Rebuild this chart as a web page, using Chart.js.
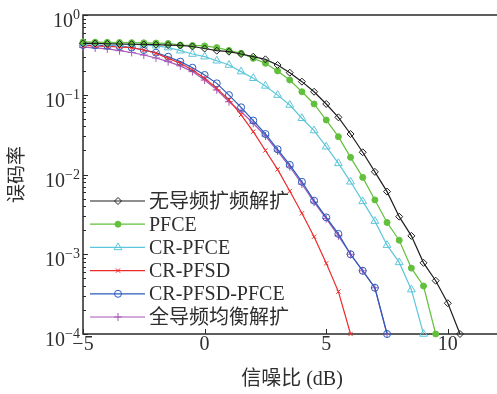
<!DOCTYPE html>
<html>
<head>
<meta charset="utf-8">
<title>误码率曲线</title>
<style>
    html, body {
        margin: 0;
        padding: 0;
        background-color: #fff;
        overflow: hidden;
    }
    #wrap {
        width: 502px;
        height: 394px;
    }
</style>
</head>
<body>
<div id="wrap"><canvas id="berChart" width="502" height="394"></canvas></div>

<script src="https://cdn.jsdelivr.net/npm/chart.js"></script>
<script>
// SNR points (dB)
const snr = [-5, -4.5, -4, -3.5, -3, -2.5, -2, -1.5, -1, -0.5, 0, 0.5, 1, 1.5, 2, 2.5,
             3, 3.5, 4, 4.5, 5, 5.5, 6, 6.5, 7, 7.5, 8, 8.5, 9, 9.5, 10, 10.5];

const seriesNames = ['无导频扩频解扩', 'PFCE', 'CR-PFCE', 'CR-PFSD', 'CR-PFSD-PFCE', '全导频均衡解扩'];

const berNoPilot = [0.442, 0.44, 0.436, 0.433, 0.43, 0.427, 0.424, 0.42, 0.415, 0.403, 0.38, 0.357,
                    0.347, 0.324, 0.300, 0.278, 0.236, 0.189, 0.146, 0.109, 0.0766, 0.0521, 0.0322,
                    0.019, 0.0108, 0.0061, 0.00296, 0.0017, 0.00078, 0.000466, 0.000243, 0.0001];
const berPFCE = [0.459, 0.456, 0.454, 0.452, 0.45, 0.448, 0.445, 0.44, 0.42, 0.415, 0.41, 0.39,
                 0.36, 0.331, 0.286, 0.248, 0.199, 0.153, 0.109, 0.0766, 0.0482, 0.0298, 0.0164,
                 0.0092, 0.0048, 0.0025, 0.0015, 0.00067, 0.0004, 0.0001];
const berCRPFCE = [0.442, 0.44, 0.437, 0.433, 0.43, 0.422, 0.412, 0.39, 0.357, 0.324, 0.30, 0.267,
                   0.236, 0.195, 0.161, 0.129, 0.099, 0.0744, 0.0507, 0.0356, 0.0223, 0.0138, 0.0081,
                   0.0046, 0.0026, 0.0013, 0.00079, 0.00036, 0.0001];
const berCRPFSD = [0.412, 0.41, 0.405, 0.398, 0.389, 0.364, 0.331, 0.286, 0.248, 0.204, 0.161, 0.12,
                   0.086, 0.056, 0.0344, 0.02, 0.0116, 0.0062, 0.00326, 0.00166, 0.00077, 0.00034, 0.0001];
const berCRPFSDPFCE = [0.42, 0.417, 0.412, 0.405, 0.391, 0.364, 0.337, 0.30, 0.26, 0.218, 0.177, 0.139,
                       0.099, 0.0696, 0.0475, 0.0322, 0.0207, 0.0132, 0.0081, 0.0047, 0.0029, 0.0018,
                       0.001, 0.00062, 0.00038, 0.0001];
const berFullPilot = [0.394, 0.386, 0.375, 0.357, 0.339, 0.315, 0.289, 0.26, 0.23, 0.195, 0.153, 0.115,
                      0.0818, 0.0613, 0.0439, 0.0304, 0.0197, 0.0125, 0.0076, 0.0045, 0.0028, 0.0017,
                      0.001, 0.00062, 0.00038, 0.0001];

const xTicks = [-5, 0, 5, 10];
const yDecades = [0, -1, -2, -3, -4];

const serif = '"Liberation Serif", "Noto Sans CJK SC", serif';
const textColor = '#2e2e2e';

function pts(values) {
    return values.map((v, i) => ({ x: snr[i], y: v }));
}

function makeSet(i, values, color, style, radius, filled) {
    return {
        label: seriesNames[i],
        data: pts(values),
        borderColor: color,
        borderWidth: 1.2,
        pointStyle: style,
        pointRadius: radius,
        pointBorderColor: color,
        pointBorderWidth: 1,
        pointBackgroundColor: filled ? color : 'rgba(255,255,255,0)',
        tension: 0,
        fill: false,
        clip: false
    };
}

const datasets = [
    makeSet(0, berNoPilot, '#1e1e1e', 'rectRot', 3.5, false),
    makeSet(1, berPFCE, '#62c03c', 'circle', 3, true),
    makeSet(2, berCRPFCE, '#5ec6da', 'triangle', 4.5, false),
    makeSet(3, berCRPFSD, '#ec2a2a', 'crossRot', 3, false),
    makeSet(4, berCRPFSDPFCE, '#2a5cbc', 'circle', 3.5, false),
    makeSet(5, berFullPilot, '#a659b8', 'cross', 4, false)
];

function drawMarker(ctx, ds, x, y) {
    if (Chart.helpers && Chart.helpers.drawPoint) {
        ctx.save();
        ctx.strokeStyle = ds.pointBorderColor;
        ctx.fillStyle = ds.pointBackgroundColor;
        ctx.lineWidth = ds.pointBorderWidth;
        Chart.helpers.drawPoint(ctx, {
            pointStyle: ds.pointStyle,
            radius: ds.pointRadius,
            rotation: 0,
            borderWidth: ds.pointBorderWidth
        }, x, y);
        ctx.restore();
    }
}

const framePlugin = {
    id: 'frame',
    beforeDatasetsDraw(chart) {
        const ctx = chart.ctx;
        const a = chart.chartArea;
        const xs = chart.scales.x;
        const ys = chart.scales.y;
        ctx.save();
        ctx.strokeStyle = '#2a2a2a';
        ctx.lineWidth = 1.5;
        ctx.beginPath();
        ctx.moveTo(a.right + 2, a.top);
        ctx.lineTo(a.left, a.top);
        ctx.lineTo(a.left, a.bottom);
        ctx.lineTo(a.right + 2, a.bottom);
        ctx.stroke();

        ctx.lineWidth = 1;
        ctx.beginPath();
        // x major ticks (inside)
        xTicks.forEach(t => {
            const px = Math.round(xs.getPixelForValue(t)) + 0.5;
            ctx.moveTo(px, a.bottom);
            ctx.lineTo(px, a.bottom - 5);
        });
        // y major and minor ticks (inside)
        yDecades.forEach(d => {
            const py = Math.round(ys.getPixelForValue(Math.pow(10, d))) + 0.5;
            ctx.moveTo(a.left, py);
            ctx.lineTo(a.left + 5, py);
            if (d < 0) {
                for (let k = 2; k <= 9; k++) {
                    const my = Math.round(ys.getPixelForValue(k * Math.pow(10, d))) + 0.5;
                    ctx.moveTo(a.left, my);
                    ctx.lineTo(a.left + 3, my);
                }
            }
        });
        ctx.stroke();

        // tick labels
        ctx.fillStyle = textColor;
        ctx.font = '20px ' + serif;
        ctx.textAlign = 'center';
        ctx.textBaseline = 'alphabetic';
        xTicks.forEach(t => {
            const px = xs.getPixelForValue(t);
            const s = t < 0 ? '\u2212' + Math.abs(t) : String(t);
            ctx.fillText(s, px, a.bottom + 16);
        });

        yDecades.forEach(d => {
            const py = ys.getPixelForValue(Math.pow(10, d));
            const sup = d < 0 ? '\u2212' + Math.abs(d) : '0';
            ctx.font = '14px ' + serif;
            const supW = ctx.measureText(sup).width;
            const right = 80;
            ctx.textAlign = 'left';
            ctx.fillText(sup, right - supW, py + 4);
            ctx.font = '20px ' + serif;
            ctx.textAlign = 'right';
            ctx.fillText('10', right - supW, py + 12);
        });

        // axis titles
        ctx.font = '20px ' + serif;
        ctx.textAlign = 'center';
        ctx.textBaseline = 'middle';
        ctx.fillText('信噪比 (dB)', 292, 380);
        ctx.save();
        ctx.translate(18, (a.top + a.bottom) / 2);
        ctx.rotate(-Math.PI / 2);
        ctx.font = '19px ' + serif;
        ctx.fillText('误码率', 0, 0);
        ctx.restore();
        ctx.restore();
    },
    afterDraw(chart) {
        // legend inside the axes, lower left
        const ctx = chart.ctx;
        const sets = chart.data.datasets;
        ctx.save();
        ctx.font = '20px ' + serif;
        ctx.fillStyle = textColor;
        ctx.textAlign = 'left';
        ctx.textBaseline = 'alphabetic';
        sets.forEach((ds, i) => {
            const ry = 201 + i * 23.2;
            ctx.strokeStyle = ds.borderColor;
            ctx.lineWidth = ds.borderWidth;
            ctx.beginPath();
            ctx.moveTo(90, ry);
            ctx.lineTo(145, ry);
            ctx.stroke();
            drawMarker(ctx, ds, 118, ry);
            ctx.fillStyle = textColor;
            ctx.fillText(ds.label, 149, ry + 6.5);
        });
        ctx.restore();
    }
};

new Chart(document.getElementById('berChart').getContext('2d'), {
    type: 'line',
    data: { datasets: datasets },
    options: {
        responsive: false,
        animation: false,
        devicePixelRatio: 1,
        layout: { padding: { top: 15, right: 1, left: 0, bottom: 0 } },
        plugins: {
            legend: { display: false },
            tooltip: { enabled: false }
        },
        scales: {
            x: {
                type: 'linear',
                min: -5,
                max: 12,
                grid: { display: false },
                border: { display: false },
                ticks: { display: false },
                afterFit: s => { s.height = 60; }
            },
            y: {
                type: 'logarithmic',
                min: 1e-4,
                max: 1,
                grid: { display: false },
                border: { display: false },
                ticks: { display: false },
                afterFit: s => { s.width = 83; }
            }
        }
    },
    plugins: [framePlugin]
});
</script>
</body>
</html>
